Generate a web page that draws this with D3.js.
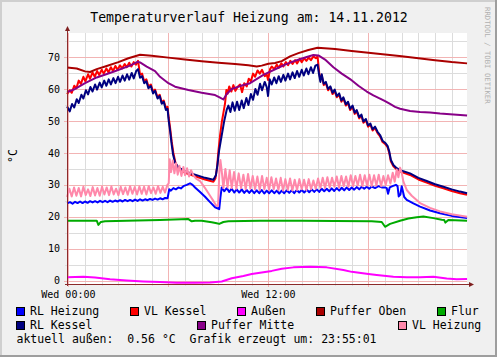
<!DOCTYPE html>
<html><head><meta charset="utf-8">
<script src="https://cdn.jsdelivr.net/npm/d3@7"></script>
<style>html,body{margin:0;padding:0;background:#f0f0f0;}svg{display:block;}</style>
</head><body><svg id="c" width="497" height="357"></svg>
<script>
// ---------- DATA ----------
const title = "Temperaturverlauf Heizung am: 14.11.2012";
const yUnit = "°C";
const watermark = "RRDTOOL / TOBI OETIKER";
const footer = "aktuell außen:  0.56 °C  Grafik erzeugt um: 23:55:01";
const timeDomain = [-5/60, 24 - 5/60];   // hours relative to Wed 00:00
const valueDomain = [-1, 77.5];
const yTickValues = [0, 10, 20, 30, 40, 50, 60, 70];
const xTickHours = [0, 12];
const xTickLabels = ["Wed 00:00", "Wed 12:00"];
const seriesNames = ["RL Heizung", "VL Kessel", "Außen", "Puffer Oben", "Flur", "RL Kessel", "Puffer Mitte", "VL Heizung"];

// [hour, °C]
const rlHeizung = [[-0.08,24.2],[0.1,24.6],[0.25,24.1],[0.4,24.7],[0.55,24.3],[0.7,24.8],[0.85,24.3],[1.0,24.8],[1.15,24.4],[1.3,24.9],[1.45,24.5],[1.6,24.9],[1.75,24.5],[1.9,25.0],[2.05,24.6],[2.2,25.0],[2.35,24.6],[2.5,25.1],[2.65,24.7],[2.8,25.1],[2.95,24.8],[3.1,25.2],[3.25,24.8],[3.4,25.3],[3.55,24.9],[3.7,25.3],[3.85,24.9],[4.0,25.4],[4.15,25.0],[4.3,25.5],[4.45,25.1],[4.6,25.5],[4.75,25.2],[4.9,25.6],[5.05,25.3],[5.2,25.7],[5.35,25.4],[5.5,25.8],[5.65,25.5],[5.8,25.9],[5.95,25.8],[6.05,28.6],[6.15,28.2],[6.3,29.0],[6.45,28.6],[6.6,29.2],[6.75,28.9],[6.9,29.6],[7.1,30.0],[7.3,30.5],[7.45,30.0],[7.6,29.2],[7.9,27.8],[8.2,26.3],[8.5,24.6],[8.8,23.0],[9.05,22.4],[9.12,26.0],[9.2,29.2],[9.35,28.0],[9.5,29.0],[9.65,27.8],[9.8,28.8],[9.95,27.6],[10.1,28.6],[10.25,27.6],[10.4,28.6],[10.55,27.5],[10.7,28.4],[10.85,27.5],[11.0,28.4],[11.15,27.4],[11.3,28.3],[11.45,27.4],[11.6,28.4],[11.75,27.3],[11.9,28.2],[12.05,27.4],[12.2,28.3],[12.35,27.4],[12.5,28.2],[12.65,27.3],[12.8,28.2],[12.95,27.4],[13.1,28.3],[13.25,27.5],[13.4,28.3],[13.55,27.4],[13.7,28.4],[13.85,27.6],[14.0,28.4],[14.15,27.6],[14.3,28.5],[14.45,27.7],[14.6,28.6],[14.75,27.8],[14.9,28.6],[15.05,27.8],[15.2,28.8],[15.35,28.0],[15.5,28.8],[15.65,28.0],[15.8,28.9],[15.95,28.1],[16.1,29.0],[16.25,28.2],[16.4,29.1],[16.55,28.3],[16.7,29.2],[16.85,28.4],[17.0,29.2],[17.15,28.5],[17.3,29.3],[17.45,28.6],[17.6,29.4],[17.75,28.8],[17.9,29.4],[18.05,28.8],[18.2,29.5],[18.4,29.0],[18.6,29.6],[18.8,29.2],[19.0,29.2],[19.1,29.0],[19.18,27.2],[19.28,29.2],[19.45,29.6],[19.65,30.0],[19.75,29.6],[19.82,26.4],[19.92,27.0],[20.0,29.6],[20.08,27.8],[20.15,26.2],[20.3,25.3],[20.7,24.2],[21.1,23.2],[21.7,22.0],[22.3,21.1],[23.0,20.3],[23.92,19.6]];

const vlKessel = [[-0.08,58.4],[0.08,59.6],[0.2,58.8],[0.35,61.0],[0.48,60.2],[0.62,62.6],[0.75,61.6],[0.9,63.8],[1.02,62.4],[1.18,64.6],[1.3,63.2],[1.45,65.2],[1.58,63.8],[1.72,65.6],[1.85,64.4],[2.0,66.0],[2.12,64.8],[2.28,66.4],[2.4,65.2],[2.55,66.8],[2.68,65.6],[2.82,67.2],[2.95,66.0],[3.1,67.4],[3.22,66.4],[3.38,67.8],[3.5,66.8],[3.65,68.2],[3.78,67.0],[3.92,68.4],[4.05,67.6],[4.18,68.8],[4.3,64.5],[4.42,64.8],[4.55,62.4],[4.68,63.0],[4.8,60.8],[4.95,61.4],[5.08,59.2],[5.2,59.8],[5.35,57.4],[5.48,58.2],[5.6,55.8],[5.72,56.4],[5.85,54.0],[5.95,54.4],[6.02,51.0],[6.1,48.0],[6.2,43.5],[6.3,40.0],[6.42,37.0],[6.6,35.0],[7.0,33.8],[7.6,32.7],[8.2,31.7],[8.7,31.0],[8.82,32.0],[8.92,35.5],[9.0,40.5],[9.1,45.5],[9.2,49.5],[9.3,52.5],[9.4,55.5],[9.48,59.7],[9.55,58.5],[9.65,60.8],[9.78,59.2],[9.9,61.2],[10.02,59.4],[10.15,60.6],[10.3,61.4],[10.42,59.0],[10.55,61.8],[10.7,60.8],[10.82,63.2],[10.95,62.4],[11.08,64.8],[11.2,63.8],[11.35,65.8],[11.48,64.8],[11.62,66.0],[11.78,64.0],[11.9,64.6],[11.98,62.8],[12.1,66.2],[12.2,67.0],[12.35,66.2],[12.5,67.6],[12.62,66.6],[12.78,68.0],[12.9,67.0],[13.05,68.4],[13.18,67.4],[13.32,68.8],[13.45,67.8],[13.6,69.0],[13.72,68.0],[13.88,69.4],[14.0,68.4],[14.15,69.6],[14.28,68.8],[14.42,69.8],[14.55,69.0],[14.7,70.2],[14.85,69.6],[14.95,70.2],[15.05,65.0],[15.12,63.0],[15.2,64.2],[15.32,61.2],[15.45,61.8],[15.58,59.6],[15.72,60.4],[15.85,58.4],[15.98,59.4],[16.1,57.4],[16.25,58.2],[16.38,56.0],[16.5,57.0],[16.65,54.8],[16.78,55.6],[16.9,53.4],[17.05,54.4],[17.18,52.2],[17.3,53.0],[17.45,50.8],[17.58,51.6],[17.7,49.4],[17.85,50.2],[17.98,48.2],[18.12,48.8],[18.25,47.0],[18.4,47.8],[18.55,46.2],[18.7,45.2],[18.85,43.4],[19.0,42.8],[19.15,41.8],[19.25,40.0],[19.35,37.3],[19.5,35.8],[19.7,34.8],[20.0,34.0],[20.5,33.1],[21.0,31.7],[21.5,30.7],[22.0,29.7],[22.5,28.9],[23.0,28.1],[23.5,27.4],[23.92,26.9]];

const aussen = [[-0.08,1.1],[0.9,1.3],[1.6,1.0],[2.5,0.5],[3.5,0.1],[4.5,-0.2],[5.5,-0.4],[6.5,-0.6],[7.6,-0.6],[8.5,-0.5],[9.2,-0.2],[9.8,0.8],[10.5,1.5],[11.0,2.1],[11.6,2.6],[12.2,3.1],[12.8,3.8],[13.5,4.2],[14.5,4.4],[15.5,4.2],[16.5,3.4],[17.0,2.8],[18.0,2.1],[18.5,1.8],[19.5,1.3],[20.3,1.1],[21.1,1.1],[21.9,1.25],[22.7,0.75],[23.3,0.5],[23.92,0.6]];

const pufferOben = [[-0.08,66.7],[0.5,66.4],[1.0,65.5],[1.3,65.3],[1.7,66.2],[2.3,67.2],[3.0,68.4],[3.6,69.6],[4.3,70.7],[5.0,70.4],[6.0,69.8],[7.0,69.2],[8.0,68.7],[9.0,68.2],[10.0,67.8],[10.8,67.4],[11.3,67.0],[11.6,67.3],[12.0,67.9],[12.4,68.1],[12.8,68.7],[13.3,70.2],[13.8,71.2],[14.4,72.2],[14.95,72.9],[16.0,72.5],[17.0,71.9],[18.0,71.3],[19.0,70.8],[20.0,70.2],[21.0,69.6],[22.0,69.0],[23.0,68.4],[23.92,68.0]];

const flur = [[-0.08,18.8],[1.7,18.8],[1.8,17.5],[1.95,18.4],[2.2,18.6],[3.5,18.8],[5.5,19.0],[7.2,19.3],[7.4,18.6],[7.6,18.8],[8.0,18.8],[8.6,18.3],[8.9,18.0],[9.05,17.8],[9.3,18.4],[9.6,18.6],[11.5,18.8],[14.0,18.8],[16.0,18.7],[18.2,18.6],[18.8,18.4],[19.0,16.9],[19.3,17.8],[19.9,18.8],[20.4,19.5],[20.9,19.9],[21.3,20.1],[21.9,19.6],[22.4,19.1],[22.55,19.0],[22.62,18.2],[22.8,19.0],[23.2,18.9],[23.92,18.8]];

const rlKessel = [[-0.08,54.5],[0.08,53.0],[0.22,55.3],[0.35,54.2],[0.5,56.8],[0.62,55.6],[0.78,58.2],[0.9,57.0],[1.05,59.6],[1.18,58.3],[1.32,60.6],[1.45,59.2],[1.6,61.4],[1.72,59.8],[1.88,62.0],[2.0,60.5],[2.15,62.6],[2.28,61.0],[2.42,63.0],[2.55,61.4],[2.7,63.4],[2.83,61.8],[2.98,63.8],[3.1,62.2],[3.25,64.2],[3.38,62.6],[3.52,64.6],[3.65,62.9],[3.8,65.0],[3.92,63.3],[4.07,65.6],[4.18,66.2],[4.3,63.5],[4.42,64.0],[4.55,61.8],[4.68,62.4],[4.8,60.2],[4.95,60.9],[5.08,58.6],[5.2,59.4],[5.35,57.0],[5.48,57.8],[5.6,55.4],[5.72,56.0],[5.85,53.4],[5.95,53.8],[6.02,50.0],[6.1,47.0],[6.2,42.5],[6.28,39.5],[6.4,37.0],[6.6,35.5],[7.0,34.2],[7.6,33.2],[8.2,32.2],[8.7,31.6],[8.85,33.0],[8.95,36.5],[9.05,41.0],[9.2,45.5],[9.35,50.0],[9.5,53.5],[9.6,54.8],[9.72,52.8],[9.85,55.8],[9.98,53.2],[10.12,56.0],[10.25,53.4],[10.4,56.4],[10.52,54.0],[10.68,57.2],[10.8,55.0],[10.95,58.4],[11.08,56.6],[11.22,60.0],[11.35,58.2],[11.5,61.6],[11.62,59.6],[11.78,62.2],[11.9,60.6],[11.98,57.8],[12.08,63.0],[12.2,61.4],[12.35,63.6],[12.48,61.8],[12.62,64.0],[12.75,62.2],[12.9,64.4],[13.02,62.6],[13.18,64.8],[13.3,63.0],[13.45,65.2],[13.58,63.4],[13.72,65.6],[13.85,63.8],[14.0,66.0],[14.12,64.2],[14.28,66.4],[14.4,64.6],[14.55,66.8],[14.68,65.0],[14.82,67.3],[14.95,67.6],[15.05,64.2],[15.12,62.2],[15.2,64.6],[15.32,61.6],[15.45,62.2],[15.58,60.0],[15.72,60.8],[15.85,58.8],[15.98,59.8],[16.1,57.8],[16.25,58.6],[16.38,56.4],[16.5,57.4],[16.65,55.2],[16.78,56.0],[16.9,53.8],[17.05,54.8],[17.18,52.6],[17.3,53.4],[17.45,51.2],[17.58,52.0],[17.7,49.8],[17.85,50.6],[17.98,48.6],[18.12,49.2],[18.25,47.4],[18.4,48.2],[18.55,46.6],[18.7,45.6],[18.85,43.8],[19.0,43.2],[19.15,42.2],[19.25,40.5],[19.35,37.8],[19.5,36.2],[19.7,35.2],[20.0,34.4],[20.5,33.6],[21.0,32.2],[21.5,31.2],[22.0,30.2],[22.5,29.4],[23.0,28.6],[23.5,27.9],[23.92,27.4]];

const pufferMitte = [[-0.08,59.0],[0.4,60.0],[1.0,61.8],[1.7,63.6],[2.7,65.4],[3.7,67.3],[4.15,68.5],[4.3,68.3],[4.7,67.0],[5.2,65.6],[5.5,63.8],[6.0,61.8],[6.4,60.7],[7.2,59.7],[8.0,58.8],[8.8,58.1],[9.1,57.3],[9.3,56.7],[9.5,58.4],[9.8,60.0],[10.3,60.9],[10.9,61.8],[11.7,64.4],[12.5,66.4],[13.0,67.6],[13.7,69.0],[14.3,70.0],[14.7,70.6],[15.0,70.5],[15.4,69.2],[15.9,66.8],[16.4,64.8],[16.9,63.1],[17.4,61.0],[17.9,59.2],[18.3,58.0],[18.7,57.0],[19.0,56.2],[19.3,55.3],[19.6,54.4],[19.9,53.8],[20.5,53.1],[21.1,52.8],[21.7,52.6],[22.3,52.3],[22.9,52.1],[23.92,51.7]];

const vlHeizung = [[-0.08,26.2],[0.06,28.8],[0.2,26.4],[0.34,29.2],[0.48,26.6],[0.62,29.0],[0.76,26.4],[0.9,29.4],[1.04,26.8],[1.18,28.6],[1.32,26.5],[1.46,29.3],[1.6,26.7],[1.74,29.0],[1.88,26.6],[2.02,29.4],[2.16,27.0],[2.3,29.2],[2.44,26.8],[2.58,29.5],[2.72,27.0],[2.86,28.8],[3.0,26.8],[3.14,29.4],[3.28,27.1],[3.42,29.2],[3.56,26.9],[3.7,29.6],[3.84,27.2],[3.98,29.3],[4.12,27.0],[4.26,29.5],[4.4,27.2],[4.54,29.4],[4.68,27.0],[4.82,29.6],[4.96,27.4],[5.1,29.2],[5.24,27.2],[5.38,29.6],[5.52,27.5],[5.66,29.4],[5.8,27.6],[5.94,30.0],[6.02,30.5],[6.08,38.0],[6.16,34.0],[6.26,37.6],[6.36,33.6],[6.46,36.8],[6.56,33.2],[6.66,36.0],[6.78,32.8],[6.9,35.6],[7.0,33.0],[7.12,35.2],[7.24,32.6],[7.36,34.6],[7.5,33.0],[7.65,32.0],[7.9,31.2],[8.2,29.0],[8.5,26.6],[8.7,25.0],[8.85,23.6],[8.98,23.4],[9.05,33.0],[9.12,37.8],[9.2,34.4],[9.3,29.0],[9.42,35.0],[9.55,29.2],[9.68,34.6],[9.8,29.0],[9.94,34.0],[10.08,28.8],[10.22,33.6],[10.36,29.0],[10.5,33.2],[10.64,28.6],[10.78,33.4],[10.92,28.8],[11.06,32.8],[11.2,28.6],[11.34,32.6],[11.48,28.4],[11.62,32.8],[11.76,28.6],[11.9,32.2],[12.04,28.4],[12.18,32.4],[12.32,28.6],[12.46,32.0],[12.6,28.4],[12.74,32.2],[12.88,28.2],[13.02,31.8],[13.16,28.4],[13.3,32.0],[13.44,28.2],[13.58,31.6],[13.72,28.4],[13.86,31.8],[14.0,28.6],[14.14,31.6],[14.28,28.4],[14.42,31.8],[14.56,28.6],[14.7,31.4],[14.84,28.8],[14.98,32.0],[15.12,29.0],[15.26,32.2],[15.4,29.0],[15.54,32.4],[15.68,29.2],[15.82,32.2],[15.96,29.4],[16.1,32.6],[16.24,29.2],[16.38,32.8],[16.52,29.6],[16.66,32.6],[16.8,29.4],[16.94,33.0],[17.08,29.6],[17.22,32.8],[17.36,29.8],[17.5,33.2],[17.64,29.6],[17.78,33.0],[17.92,29.8],[18.06,33.2],[18.2,29.6],[18.34,33.0],[18.48,29.8],[18.62,33.2],[18.76,29.6],[18.9,32.8],[19.04,30.0],[19.18,33.0],[19.32,30.4],[19.46,33.8],[19.58,31.0],[19.7,34.8],[19.8,32.4],[19.9,35.4],[20.0,33.8],[20.1,31.0],[20.3,28.4],[20.6,26.6],[21.1,24.3],[21.7,22.8],[22.3,21.7],[23.0,20.8],[23.92,20.0]];

const seriesData = [rlHeizung, vlKessel, aussen, pufferOben, flur, rlKessel, pufferMitte, vlHeizung];
const seriesColors = ["#0000ff", "#ff0000", "#ff00ff", "#aa0000", "#00aa00", "#000080", "#880088", "#ff88aa"];

// ---------- LAYOUT ----------
const W = 497, H = 357;
const plot = {l: 67, r: 467, t: 33, b: 284};
const legendSlots = [[16,0],[130,0],[237,0],[316,0],[437,0],[16,1],[197,1],[398,1]];
const FONT = "'DejaVu Sans Mono', monospace";

const svg = d3.select("#c");
const x = d3.scaleLinear().domain(timeDomain).range([plot.l, plot.r]);
const y = d3.scaleLinear().domain(valueDomain).range([plot.b, plot.t]);

svg.append("rect").attr("width", W).attr("height", H).attr("fill", "#f0f0f0");
// 3D frame
svg.append("rect").attr("x",0).attr("y",0).attr("width",W).attr("height",2).attr("fill","#cfcfcf");
svg.append("rect").attr("x",0).attr("y",0).attr("width",2).attr("height",H).attr("fill","#cfcfcf");
svg.append("rect").attr("x",0).attr("y",H-2).attr("width",W).attr("height",2).attr("fill","#9e9e9e");
svg.append("rect").attr("x",W-2).attr("y",0).attr("width",2).attr("height",H).attr("fill","#9e9e9e");

svg.append("rect").attr("x", plot.l).attr("y", plot.t).attr("width", plot.r - plot.l).attr("height", plot.b - plot.t).attr("fill", "#fff");

const g = svg.append("g");
const px = v => Math.round(v) + 0.5;
const hours = d3.range(0, 24);
hours.filter(h => h % 6 !== 0).forEach(h => {
  g.append("line").attr("x1", px(x(h))).attr("x2", px(x(h))).attr("y1", plot.t).attr("y2", plot.b + 2)
    .attr("stroke", "#dcdcdc").attr("stroke-width", 1);
});
d3.range(5, 80, 10).forEach(v => {
  g.append("line").attr("x1", plot.l - 2).attr("x2", plot.r).attr("y1", px(y(v))).attr("y2", px(y(v)))
    .attr("stroke", "#dcdcdc").attr("stroke-width", 1);
});
hours.filter(h => h % 6 === 0).forEach(h => {
  g.append("line").attr("x1", px(x(h))).attr("x2", px(x(h))).attr("y1", plot.t).attr("y2", plot.b + 3)
    .attr("stroke", "#f2b4b4").attr("stroke-width", 1);
});
yTickValues.forEach(v => {
  g.append("line").attr("x1", plot.l - 3).attr("x2", plot.r).attr("y1", px(y(v))).attr("y2", px(y(v)))
    .attr("stroke", "#f2b4b4").attr("stroke-width", 1);
});

// series
const line = d3.line().x(d => x(d[0])).y(d => y(d[1]));
seriesData.forEach((data, i) => {
  svg.append("path").datum(data).attr("d", line).attr("fill", "none")
    .attr("stroke", seriesColors[i]).attr("stroke-width", 2).attr("stroke-linejoin", "round");
});

// axes with arrows
const axisCol = "#8c2a2a";
svg.append("line").attr("x1", plot.l + 0.5).attr("x2", plot.l + 0.5).attr("y1", plot.b + 2).attr("y2", plot.t - 3)
  .attr("stroke", axisCol).attr("stroke-width", 1);
svg.append("line").attr("x1", plot.l - 2).attr("x2", plot.r + 4).attr("y1", plot.b + 0.5).attr("y2", plot.b + 0.5)
  .attr("stroke", axisCol).attr("stroke-width", 1);
svg.append("path").attr("d", `M${plot.l + 0.5},${plot.t - 7} L${plot.l + 3},${plot.t - 2} L${plot.l - 2},${plot.t - 2} Z`).attr("fill", "#7f1f1f");
svg.append("path").attr("d", `M${plot.r + 7},${plot.b + 0.5} L${plot.r + 2},${plot.b - 2} L${plot.r + 2},${plot.b + 3} Z`).attr("fill", "#7f1f1f");

// tick labels
yTickValues.forEach(v => {
  svg.append("text").attr("x", 60).attr("y", y(v) + 3.6).attr("text-anchor", "end")
    .attr("font-family", FONT).attr("font-size", 10).attr("fill", "#000").text(v);
});
xTickHours.forEach((h, i) => {
  svg.append("text").attr("x", x(h)).attr("y", 298).attr("text-anchor", "middle")
    .attr("font-family", FONT).attr("font-size", 10).attr("fill", "#000").text(xTickLabels[i]);
});

// title
svg.append("text").attr("x", 249).attr("y", 21.5).attr("text-anchor", "middle")
  .attr("font-family", FONT).attr("font-size", 13.2).attr("fill", "#000").text(title);
// y unit
svg.append("text").attr("transform", "translate(17,156) rotate(-90)").attr("text-anchor", "middle")
  .attr("font-family", FONT).attr("font-size", 11.5).attr("fill", "#000").text(yUnit);
// watermark
svg.append("text").attr("transform", "translate(484.5,7) rotate(90)").attr("text-anchor", "start")
  .attr("font-family", FONT).attr("font-size", 7.3).attr("fill", "#b0b0b0").text(watermark);

// legend
const rowBase = [315, 329];
seriesNames.forEach((name, i) => {
  const [lx, row] = legendSlots[i];
  svg.append("rect").attr("x", lx + 0.5).attr("y", rowBase[row] - 7.5).attr("width", 8).attr("height", 8)
    .attr("fill", seriesColors[i]).attr("stroke", "#000").attr("stroke-width", 1);
  svg.append("text").attr("x", lx + 14).attr("y", rowBase[row]).attr("font-family", FONT)
    .attr("font-size", 11.5).attr("fill", "#000").style("white-space", "pre").text(name);
});
svg.append("text").attr("x", 16.5).attr("y", 343).attr("font-family", FONT).attr("font-size", 11.5)
  .attr("fill", "#000").style("white-space", "pre").text(footer);
</script></body></html>
